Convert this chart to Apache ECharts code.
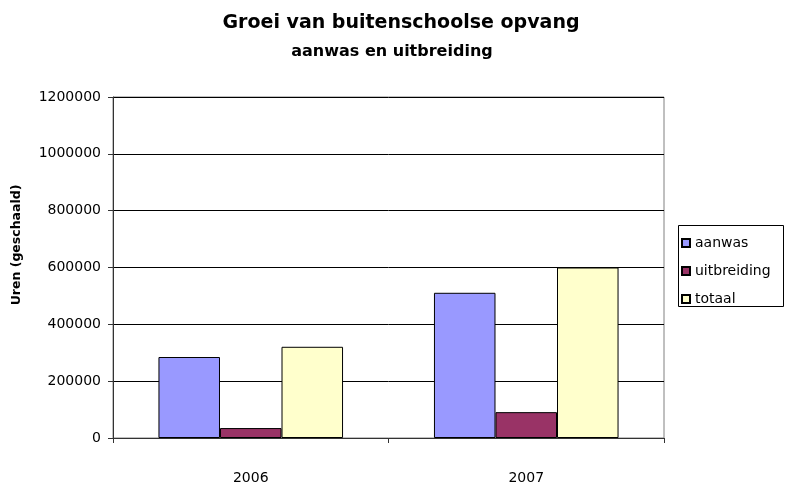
<!DOCTYPE html>
<html>
<head>
<meta charset="utf-8">
<script src="https://cdn.jsdelivr.net/npm/echarts@6/dist/echarts.min.js"></script>
<style>
  html, body { margin: 0; padding: 0; background: #fff; }
  #chart { width: 785px; height: 486px; }
</style>
</head>
<body>
<div id="chart"></div>
<script>
// data
const years = ['2006', '2007']
const aanwas = [285000, 511000]
const uitbreiding = [35000, 91000]
const totaal = [321000, 600000]
const seriesNames = ['aanwas', 'uitbreiding', 'totaal']

const FONT = '"DejaVu Sans", sans-serif'
const colors = ['#9999ff', '#993366', '#ffffcc']

const chart = echarts.init(document.getElementById('chart'), null, { renderer: 'canvas' })

function bar(name, data, i) {
  return {
    name: name,
    type: 'bar',
    data: data,
    barGap: '0%',
    barCategoryGap: '33%',
    itemStyle: {
      color: colors[i],
      borderColor: '#000',
      borderWidth: 1
    },
    emphasis: { disabled: true }
  }
}

chart.setOption({
  animation: false,
  backgroundColor: '#fff',
  grid: {
    left: 113,
    right: 121,
    top: 97,
    bottom: 48,
    show: true,
    borderColor: '#808080',
    borderWidth: 1
  },
  legend: {
    orient: 'vertical',
    left: 676,
    top: 231,
    itemWidth: 8,
    itemHeight: 8,
    itemGap: 14,
    icon: 'rect',
    selectedMode: false,
    data: seriesNames,
    textStyle: { fontFamily: FONT, fontSize: 14, color: '#000' }
  },
  graphic: [
    {
      type: 'text',
      style: {
        text: 'Groei van buitenschoolse opvang', font: 'bold 19px ' + FONT, fill: '#000',
        x: 401, y: 23, align: 'center', verticalAlign: 'middle'
      }
    },
    {
      type: 'text',
      style: {
        text: 'aanwas en uitbreiding', font: 'bold 16px ' + FONT, fill: '#000',
        x: 392, y: 52, align: 'center', verticalAlign: 'middle'
      }
    },
    {
      type: 'text',
      x: 17, y: 245,
      rotation: Math.PI / 2,
      style: {
        text: 'Uren (geschaald)',
        font: 'bold 12.5px ' + FONT,
        fill: '#000',
        align: 'center',
        verticalAlign: 'middle'
      }
    },
    {
      type: 'rect',
      shape: { x: 678.5, y: 225.5, width: 105, height: 81 },
      style: { fill: 'none', stroke: '#000', lineWidth: 1 },
      z: 10
    }
  ],
  xAxis: {
    type: 'category',
    data: years,
    axisLine: { lineStyle: { color: '#333', width: 1 } },
    axisTick: { show: true, inside: false, length: 5, lineStyle: { color: '#333' } },
    axisLabel: { margin: 33, fontFamily: FONT, fontSize: 14, color: '#000' }
  },
  yAxis: {
    type: 'value',
    min: 0,
    max: 1200000,
    interval: 200000,
    axisLine: { show: true, lineStyle: { color: '#333', width: 1 } },
    axisTick: { show: true, length: 5, lineStyle: { color: '#333' } },
    axisLabel: {
      margin: 12, fontFamily: FONT, fontSize: 14, color: '#000',
      formatter: function (v) { return String(v) }
    },
    splitLine: { lineStyle: { color: '#000', width: 1 } }
  },
  series: [
    bar(seriesNames[0], aanwas, 0),
    bar(seriesNames[1], uitbreiding, 1),
    bar(seriesNames[2], totaal, 2)
  ]
})
</script>
</body>
</html>
